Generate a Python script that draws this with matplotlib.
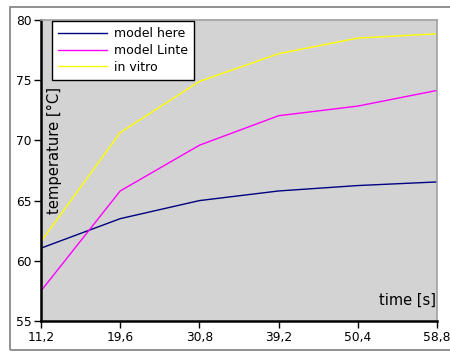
import matplotlib
matplotlib.use("Agg")
import matplotlib.pyplot as plt
from matplotlib.patches import Rectangle

times = ["11,2", "19,6", "30,8", "39,2", "50,4", "58,8"]
model_here = [61.05, 63.5, 65.0, 65.8, 66.25, 66.55]
model_linte = [57.5, 65.8, 69.6, 72.05, 72.85, 74.15]
in_vitro = [61.6, 70.65, 74.9, 77.2, 78.5, 78.85]

W, H = 450, 352
fig = plt.figure(figsize=(W / 100, H / 100), dpi=100)
fig.patch.set_facecolor("white")

# outer gray frame
fig.patches.append(Rectangle((10 / W, 1 - 350 / H), 445 / W, 343 / H,
                             transform=fig.transFigure, fill=False,
                             edgecolor="#888888", linewidth=1.3))

ax = fig.add_axes([41 / W, 1 - 321 / H, 396 / W, 301 / H])
ax.set_facecolor("#d3d3d3")

x = list(range(len(times)))
ax.plot(x, model_here, color="#000080", lw=1, label="model here")
ax.plot(x, model_linte, color="#ff00ff", lw=1, label="model Linte")
ax.plot(x, in_vitro, color="#ffff00", lw=1, label="in vitro")

ax.set_xlim(0, len(times) - 1)
ax.set_ylim(55, 80)
ax.set_xticks(x)
ax.set_xticklabels(times)
ax.set_yticks([55, 60, 65, 70, 75, 80])

for s in ("left", "bottom"):
    ax.spines[s].set_color("black")
    ax.spines[s].set_linewidth(1.8)
for s in ("top", "right"):
    ax.spines[s].set_color("#a0a0a0")
    ax.spines[s].set_linewidth(1.2)

ax.tick_params(direction="out", length=5, width=1, labelsize=8.8, pad=2)

ax.text(0.034, 0.566, "temperature [°C]", transform=ax.transAxes,
        rotation=90, ha="center", va="center", fontsize=10.6)
ax.text(0.998, 0.07, "time [s]", transform=ax.transAxes,
        ha="right", va="center", fontsize=10.5)

leg = ax.legend(loc="upper left", bbox_to_anchor=(11 / 396, 1 - 1 / 301),
                fontsize=9, frameon=True, fancybox=False,
                edgecolor="black", framealpha=1, borderpad=0.5,
                handlelength=3.9, handletextpad=0.55, labelspacing=0.3,
                borderaxespad=0)
leg.get_frame().set_linewidth(1)

fig.savefig("out.png", dpi=100)
